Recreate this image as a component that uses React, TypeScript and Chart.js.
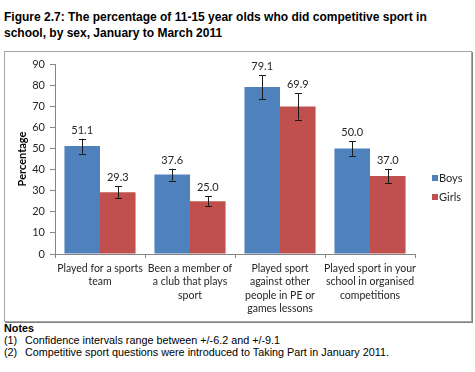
import React, { useEffect, useRef } from 'react';
import { Chart, registerables } from 'chart.js';
Chart.register(...registerables);

const categories: string[][] = [
  ['Played for a sports', 'team'],
  ['Been a member of', 'a club that plays', 'sport'],
  ['Played sport', 'against other', 'people in PE or', 'games lessons'],
  ['Played sport in your', 'school in organised', 'competitions'],
];
const seriesNames = ['Boys', 'Girls'];
const boys = [51.1, 37.6, 79.1, 50.0];
const girls = [29.3, 25.0, 69.9, 37.0];
const boysErr = [3.5, 2.8, 5.7, 3.5];
const girlsErr = [2.7, 2.3, 6.2, 3.3];
const yMin = 0;
const yMax = 90;
const yStep = 10;
const titleLines = [
  'Figure 2.7: The percentage of 11-15 year olds who did competitive sport in',
  'school, by sex, January to March 2011',
];
const notes = [
  ['(1)', 'Confidence intervals range between +/-6.2 and +/-9.1'],
  ['(2)', 'Competitive sport questions were introduced to Taking Part in January 2011.'],
];

const BLUE = '#4F81BD';
const RED = '#C0504D';
const FONT = 'Lato, "Liberation Sans", sans-serif';

const errPlugin = {
  id: 'errLabels',
  afterDatasetsDraw(chart: any) {
    const ctx = chart.ctx;
    const y = chart.scales.y;
    const errs = [boysErr, girlsErr];
    ctx.save();
    chart.data.datasets.forEach((ds: any, di: number) => {
      const meta = chart.getDatasetMeta(di);
      meta.data.forEach((el: any, i: number) => {
        const v = ds.data[i];
        const e = errs[di][i];
        const top = y.getPixelForValue(v + e);
        const bot = y.getPixelForValue(v - e);
        const x = Math.round(el.x) + 0.5;
        ctx.strokeStyle = '#1a1a1a';
        ctx.lineWidth = 1;
        ctx.beginPath();
        ctx.moveTo(x, top);
        ctx.lineTo(x, bot);
        ctx.moveTo(x - 3.5, Math.round(top) + 0.5);
        ctx.lineTo(x + 3.5, Math.round(top) + 0.5);
        ctx.moveTo(x - 3.5, Math.round(bot) + 0.5);
        ctx.lineTo(x + 3.5, Math.round(bot) + 0.5);
        ctx.stroke();
        ctx.fillStyle = '#262626';
        ctx.font = '11px ' + FONT;
        ctx.textAlign = 'center';
        ctx.textBaseline = 'bottom';
        ctx.fillText(v.toFixed(1), el.x, top - 3);
      });
    });
    // legend
    const lx = chart.chartArea.right + 17;
    const cy = [126, 145];
    chart.data.datasets.forEach((ds: any, di: number) => {
      ctx.fillStyle = ds.backgroundColor;
      ctx.fillRect(lx, cy[di] - 3, 6, 6);
      ctx.fillStyle = '#262626';
      ctx.font = '11px ' + FONT;
      ctx.textAlign = 'left';
      ctx.textBaseline = 'middle';
      ctx.fillText(ds.label, lx + 7, cy[di]);
    });
    ctx.restore();
  },
};

function ChartBox() {
  const ref = useRef<HTMLCanvasElement>(null);
  useEffect(() => {
    if (!ref.current) return;
    const chart = new Chart(ref.current, {
      type: 'bar',
      data: {
        labels: categories,
        datasets: [
          { label: seriesNames[0], data: boys, backgroundColor: BLUE, borderWidth: 0 },
          { label: seriesNames[1], data: girls, backgroundColor: RED, borderWidth: 0 },
        ],
      },
      options: {
        animation: false,
        responsive: false,
        maintainAspectRatio: false,
        layout: { padding: { top: 12, right: 56, left: 0, bottom: 0 } },
        plugins: { legend: { display: false }, tooltip: { enabled: false }, title: { display: false } },
        datasets: { bar: { categoryPercentage: 0.79, barPercentage: 1.0 } },
        scales: {
          x: {
            grid: { display: true, drawOnChartArea: false, drawTicks: true, tickLength: 4, color: '#868686', offset: true },
            border: { color: '#868686', width: 1 },
            ticks: { color: '#262626', font: { family: FONT, size: 10.5, lineHeight: 1.27 }, padding: 4, maxRotation: 0, autoSkip: false },
            afterFit: (s: any) => { s.height = 67; },
          },
          y: {
            min: yMin,
            max: yMax,
            ticks: { stepSize: yStep, color: '#262626', font: { family: FONT, size: 11 }, padding: 5 },
            grid: { display: true, drawOnChartArea: false, drawTicks: true, tickLength: 5, color: '#868686' },
            border: { color: '#868686', width: 1 },
            title: { display: true, text: 'Percentage', color: '#000', font: { family: FONT, size: 11, weight: 'bold' }, padding: { top: 11, bottom: 0 } },
            afterFit: (s: any) => { s.width = 50; },
          },
        },
      },
      plugins: [errPlugin],
    });
    return () => chart.destroy();
  }, []);
  return <canvas ref={ref} width={466} height={269} style={{ position: 'absolute', left: 5, top: 52, width: 466, height: 269 }} />;
}

export default function App() {
  useEffect(() => {
    document.body.style.margin = '0';
  }, []);
  return (
    <div style={{ position: 'fixed', left: 0, top: 0, width: 475, height: 372, background: '#fff', overflow: 'hidden' }}>
      <div style={{ position: 'absolute', left: 4, top: 9, font: 'bold 12px "Liberation Sans", Arial, sans-serif', lineHeight: '16px', color: '#000', whiteSpace: 'nowrap' }}>
        {titleLines.map((t, i) => (<div key={i}>{t}</div>))}
      </div>
      <div style={{ position: 'absolute', left: 4, top: 51, width: 468, height: 271, boxSizing: 'border-box', border: '1px solid #a6a6a6', boxShadow: '1px 1px 0 #808080' }} />
      <ChartBox />
      <div style={{ position: 'absolute', left: 4, top: 322, font: '10.8px "Liberation Sans", Arial, sans-serif', lineHeight: '12px', color: '#000', whiteSpace: 'nowrap' }}>
        <div style={{ fontWeight: 'bold' }}>Notes</div>
        {notes.map((n, i) => (
          <div key={i}><span style={{ display: 'inline-block', width: 21 }}>{n[0]}</span>{n[1]}</div>
        ))}
      </div>
    </div>
  );
}
